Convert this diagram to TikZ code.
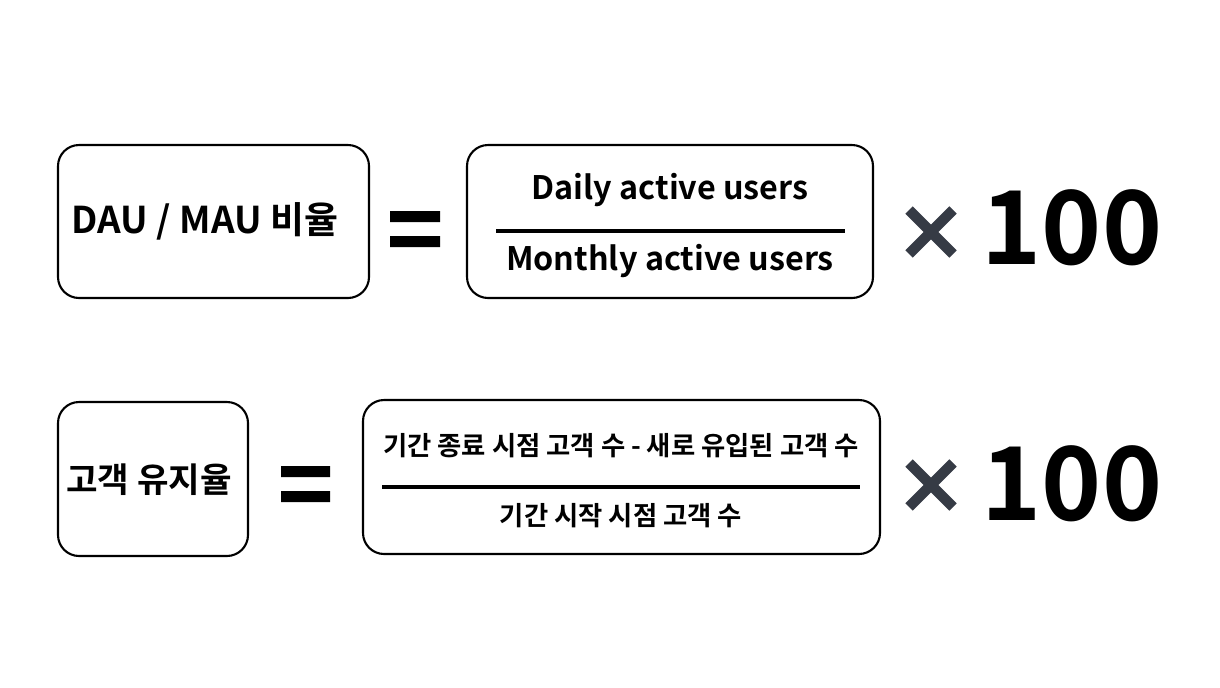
\documentclass[tikz,border=0pt]{standalone}
\usepackage{fontspec}
\setmainfont{Noto Sans CJK KR Bold}
\definecolor{timesgray}{HTML}{363B45}
\begin{document}
\begin{tikzpicture}[x=0.02cm,y=-0.02cm,
  box/.style={draw,line width=1.2pt,rounded corners=12pt},
  lbl/.style={font=\fontsize{21}{24}\selectfont},
  klbl/.style={font=\fontsize{19.5}{24}\selectfont},
  frac/.style={font=\fontsize{18.4}{22}\selectfont},
  kfrac/.style={font=\fontsize{15}{19}\selectfont},
  hundred/.style={font=\fontsize{58}{66}\selectfont}]
\useasboundingbox (0,0) rectangle (1220,687);

% DAU / MAU row
\draw[box] (58,145) rectangle (369,298);
\node[lbl] (ratio) at (205,221) {DAU / MAU 비율};
\fill (390,211) rectangle (440,222) (390,236) rectangle (440,247);
\draw[box] (467,145) rectangle (873,298);
\node[frac] (dau) at (670,190) {Daily active users};
\draw[line width=2.2pt] (496,231) -- (845,231);
\node[frac] (mau) at (670,261) {Monthly active users};
\draw[timesgray,line width=6pt] (909,210) -- (953,254) (909,254) -- (953,210);
\node[hundred] (h1) at (1072,228) {100};

% retention row
\draw[box] (58,402) rectangle (248,556);
\node[klbl] (keep) at (149,480) {고객 유지율};
\fill (281,466) rectangle (330,477) (281,491) rectangle (330,502);
\draw[box] (363,400) rectangle (880,554);
\node[kfrac] (num) at (621,446) {기간 종료 시점 고객 수 - 새로 유입된 고객 수};
\draw[line width=2.2pt] (382,487) -- (860,487);
\node[kfrac] (den) at (621,516) {기간 시작 시점 고객 수};
\draw[timesgray,line width=6pt] (909,463) -- (953,507) (909,507) -- (953,463);
\node[hundred] (h2) at (1072,484) {100};
\end{tikzpicture}
\end{document}
